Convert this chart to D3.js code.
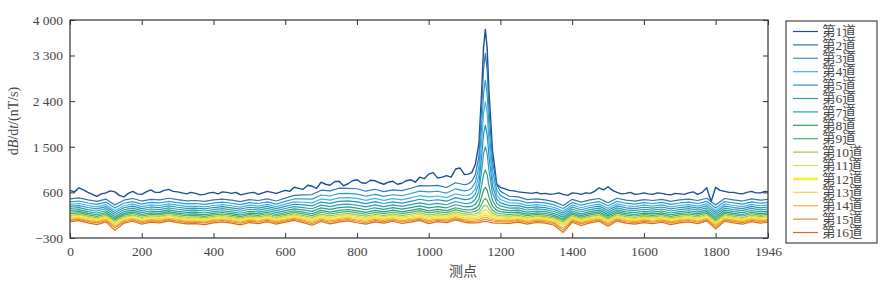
<!DOCTYPE html>
<head>
    <meta charset="utf-8">
    <title>dB/dt 多道剖面</title>
    <style>
        body { margin: 0; background: #fff; }
        text { font-family: "Liberation Serif", "Noto Sans CJK SC", serif; fill: #444; }
    </style>
</head>
<body>
<script src="https://d3js.org/d3.v7.min.js"></script>
<script>

    // measuring points (x positions of the samples)
    var points = [0,25,50,75,100,125,150,175,200,225,250,275,300,325,350,375,400,425,450,475,500,525,550,575,600,625,650,675,700,725,750,775,800,825,850,875,900,925,950,975,1000,1025,1050,1075,1100,
        1110,1120,1130,1140,1148,1153,1158,1163,1168,1178,1190,1200,
        1225,1250,1275,1300,1325,1350,1375,1400,1425,1450,1475,1500,1525,1550,1575,1600,1625,1650,1675,1700,1725,1750,1775,1800,1825,1850,1875,1900,1925,1946];

    // channel 1 is read at a finer step
    var points1 = [0,12.5,25,37.5,50,62.5,75,87.5,100,112.5,125,137.5,150,162.5,175,187.5,200,212.5,225,237.5,250,262.5,275,287.5,300,312.5,325,337.5,350,362.5,375,387.5,400,412.5,425,437.5,450,462.5,475,487.5,500,512.5,525,537.5,550,562.5,575,587.5,600,612.5,625,637.5,650,662.5,675,687.5,700,712.5,725,737.5,750,762.5,775,787.5,800,812.5,825,837.5,850,862.5,875,887.5,900,912.5,925,937.5,950,962.5,975,987.5,1000,1012.5,1025,1037.5,1050,1062.5,1075,1087.5,1100,
        1110,1120,1130,1140,1148,1153,1158,1163,1168,1178,1190,
        1200,1212.5,1225,1237.5,1250,1262.5,1275,1287.5,1300,1312.5,1325,1337.5,1350,1362.5,1375,1387.5,1400,1412.5,1425,1437.5,1450,1462.5,1475,1487.5,1500,1512.5,1525,1537.5,1550,1562.5,1575,1587.5,1600,1612.5,1625,1637.5,1650,1662.5,1675,1687.5,1700,1712.5,1725,1737.5,1750,1762.5,1775,1787.5,1800,1812.5,1825,1837.5,1850,1862.5,1875,1887.5,1900,1912.5,1925,1937.5,1946];

    var ch1 = [640,610,690,650,600,560,520,570,590,630,610,540,510,580,620,570,560,610,650,600,600,640,660,620,610,590,570,600,580,550,560,590,600,570,610,600,580,600,550,570,590,600,560,590,620,600,580,610,640,620,700,680,660,740,720,680,800,760,740,810,820,730,770,830,850,790,780,840,830,790,760,800,820,760,780,830,850,800,900,870,960,990,880,900,930,900,1060,1080,950,
        960,990,1150,1560,2640,3460,3816,3450,2600,1420,760,
        700,670,640,630,610,600,590,580,600,570,580,560,570,590,560,540,590,580,560,590,580,620,690,650,710,640,600,570,580,600,560,570,590,570,560,590,580,560,550,580,570,560,590,610,560,600,690,420,700,640,620,600,600,580,570,600,620,590,590,620,610];
    var ch2 = [473,490,451,423,468,352,446,479,429,462,451,484,457,434,440,423,451,468,446,418,457,440,473,429,487,540,551,557,643,629,682,679,671,623,662,615,648,634,682,734,729,737,696,790,751,
        766,818,948,1312,2301,3030,3342,3017,2254,1209,746,622,
        524,511,457,471,453,412,341,462,407,451,479,396,484,446,429,457,440,462,423,451,468,440,484,352,479,451,429,473,446,462];
    var ch3 = [413,430,391,363,408,292,386,419,369,402,391,424,397,374,380,363,391,408,386,358,397,380,413,369,422,470,471,467,548,529,577,579,566,523,562,520,553,534,577,624,609,622,586,670,631,
        642,686,796,1103,1938,2552,2816,2544,1904,1028,639,535,
        452,444,393,409,392,352,281,402,347,391,419,336,424,386,369,397,380,402,363,391,408,380,424,292,419,391,369,413,386,402];
    var ch4 = [363,380,341,313,358,242,336,369,319,352,341,374,347,324,330,313,341,358,336,308,347,330,363,319,368,412,405,393,470,447,491,497,480,441,480,442,475,452,491,534,511,528,496,572,533,
        541,578,671,933,1642,2164,2388,2158,1617,876,547,459,
        390,387,339,357,341,302,231,352,297,341,369,286,374,336,319,347,330,352,313,341,358,330,374,242,369,341,319,363,336,352];
    var ch5 = [323,340,301,273,318,202,296,329,279,312,301,334,307,284,290,273,301,318,296,268,307,290,323,279,325,366,353,335,409,383,424,433,413,377,416,381,414,388,424,464,435,455,426,496,457,
        461,490,565,772,1335,1750,1928,1745,1314,725,463,393,
        338,340,295,315,300,262,191,312,257,301,329,246,334,296,279,307,290,312,273,301,318,290,334,202,329,301,279,323,296,312];
    var ch6 = [283,300,261,233,278,162,256,289,239,272,261,294,267,244,250,233,261,278,256,228,267,250,283,239,282,320,301,277,348,319,357,369,346,313,352,320,353,324,357,394,359,382,356,420,381,
        381,404,460,619,1048,1364,1500,1361,1034,586,386,333,
        289,295,252,274,259,222,151,272,217,261,289,206,294,256,239,267,250,272,233,261,278,250,294,162,289,261,239,283,256,272];
    var ch7 = [243,260,221,193,238,122,216,249,199,232,221,254,227,204,210,193,221,238,216,188,227,210,243,199,240,276,253,225,294,263,299,313,288,257,296,266,299,268,299,334,295,320,296,356,317,
        313,328,365,468,747,953,1041,950,735,440,307,271,
        240,250,209,232,219,182,111,232,177,221,249,166,254,216,199,227,210,232,193,221,238,210,254,122,249,221,199,243,216,232];
    var ch8 = [208,225,186,158,203,87,181,214,164,197,186,219,192,169,175,158,186,203,181,153,192,175,208,164,203,237,210,178,245,212,246,262,235,206,245,217,250,217,246,279,236,263,241,297,258,
        252,261,283,347,519,646,700,644,511,328,244,221,
        199,211,172,196,183,147,76,197,142,186,214,131,219,181,164,192,175,197,158,186,203,175,219,87,214,186,164,208,181,197];
    var ch9 = [178,195,156,128,173,57,151,184,134,167,156,189,162,139,145,128,156,173,151,123,162,145,178,134,172,205,176,142,208,174,207,224,196,168,207,180,213,179,207,239,194,222,201,255,216,
        208,213,227,266,370,447,480,445,362,247,193,178,
        163,178,140,165,153,117,46,167,112,156,184,101,189,151,134,162,145,167,128,156,173,145,189,57,184,156,134,178,151,167];
    var ch10 = [148,165,126,98,143,27,121,154,104,137,126,159,132,109,115,98,126,143,121,93,132,115,148,104,141,173,142,106,171,136,168,186,157,130,169,143,176,141,168,199,152,181,161,213,174,
        165,169,178,204,275,328,350,326,269,190,153,142,
        130,146,109,135,122,87,16,137,82,126,154,71,159,121,104,132,115,137,98,126,143,115,159,27,154,126,104,148,121,137];
    var ch11 = [128,145,106,78,123,7,101,134,84,117,106,139,112,89,95,78,106,123,101,73,112,95,128,84,120,151,118,80,144,108,139,158,128,102,141,116,149,113,139,169,120,150,131,181,142,
        132,135,141,159,208,245,260,244,204,150,124,116,
        107,124,88,114,102,67,-4,117,62,106,134,51,139,101,84,112,95,117,78,106,123,95,139,7,134,106,84,128,101,117];
    var ch12 = [108,125,86,58,103,-13,81,114,64,97,86,119,92,69,75,58,86,103,81,53,92,75,108,64,100,130,96,57,121,84,115,134,104,78,117,93,126,89,115,144,94,125,106,155,116,
        106,108,113,126,162,189,200,188,158,117,97,91,
        84,102,67,94,82,47,-24,97,42,86,114,31,119,81,64,92,75,97,58,86,103,75,119,-13,114,86,64,108,81,97];
    var ch13 = [88,105,66,38,83,-33,61,94,44,77,66,99,72,49,55,38,66,83,61,33,72,55,88,44,79,109,74,34,97,60,90,110,79,54,93,69,102,65,90,119,68,99,81,129,90,
        80,81,85,95,122,141,150,141,118,87,72,68,
        62,81,46,73,62,27,-44,77,22,66,94,11,99,61,44,72,55,77,38,66,83,55,99,-33,94,66,44,88,61,77];
    var ch14 = [68,85,46,18,63,-70,41,74,24,57,46,79,52,29,35,18,46,63,41,13,52,35,68,24,59,88,52,11,74,36,66,86,55,30,69,46,79,41,66,94,42,74,56,103,64,
        54,55,58,66,87,103,110,103,85,61,49,45,
        41,61,26,53,42,7,-100,57,2,46,74,-9,79,41,24,52,35,57,18,46,63,35,79,-53,74,46,24,68,41,57];
    var ch15 = [51,69,27,-3,45,-100,21,57,3,39,27,63,33,9,15,-3,27,45,21,-9,33,15,51,3,40,71,31,-15,52,11,42,65,30,5,47,22,58,17,42,73,15,50,31,81,39,
        27,28,30,36,53,65,70,65,52,35,26,23,
        20,42,5,34,21,-15,-140,39,-21,27,57,-33,63,21,3,33,15,39,-3,27,45,15,63,-81,57,27,3,51,21,39];
    var ch16 = [24,44,-2,-35,18,-150,-8,31,-28,11,-2,37,5,-22,-15,-35,-2,18,-8,-41,5,-15,24,-28,12,46,2,-48,25,-20,14,39,1,-27,19,-8,31,-14,14,47,-16,22,2,56,10,
        -3,-2,0,4,17,26,30,25,15,0,-8,-9,
        -12,13,-27,6,-8,-48,-190,11,-54,-2,31,-67,37,-8,-28,5,-15,11,-35,-2,18,-15,37,-119,31,-2,-28,24,-8,11];

    var names = ['第1道','第2道','第3道','第4道','第5道','第6道','第7道','第8道',
        '第9道','第10道','第11道','第12道','第13道','第14道','第15道','第16道'];
    var colors = ['#1b4f93','#2e78b4','#2f9ad2','#45b3e2','#2196c6','#2a9fb2','#27a08f','#2f9f6c',
        '#46ad6f','#9cc25a','#d9df4a','#f6ee2a','#f6d24a','#eeb43a','#e2902c','#e0691f'];
    var yTicks = [-300, 600, 1500, 2400, 3300, 4000];
    var xTicks = [0, 200, 400, 600, 800, 1000, 1200, 1400, 1600, 1800, 1946];

    var series = [ch1, ch2, ch3, ch4, ch5, ch6, ch7, ch8, ch9, ch10, ch11, ch12, ch13, ch14, ch15, ch16]
        .map(function (vals, i) {
            var xs = i === 0 ? points1 : points;
            return { name: names[i], color: colors[i], values: vals.map(function (v, j) { return [xs[j], v]; }) };
        });

    var margin = { top: 20, right: 124, bottom: 51, left: 70 },
        width = 892 - margin.left - margin.right,
        height = 289 - margin.top - margin.bottom;

    var x = d3.scaleLinear().domain([0, 1946]).range([0, width]);
    var y = d3.scaleLinear().domain([-300, 4000]).range([height, 0]);

    var fmt = function (v) { return d3.format(',')(v).replace(/,/g, ' '); };

    var svg = d3.select('body').append('svg')
        .attr('width', 892)
        .attr('height', 289)
        .append('g')
        .attr('transform', 'translate(' + margin.left + ',' + margin.top + ')');

    var line = d3.line()
        .x(function (d) { return x(d[0]); })
        .y(function (d) { return y(d[1]); });

    svg.selectAll('.ch')
        .data(series)
        .enter().append('path')
        .attr('class', 'ch')
        .attr('d', function (d) { return line(d.values); })
        .attr('fill', 'none')
        .attr('stroke', function (d) { return d.color; })
        .attr('stroke-width', function (d, i) { return i === 0 ? 1.4 : 1.2; })
        .attr('stroke-linejoin', 'round');

    // axes, ticks pointing inwards (all four sides)
    svg.append('g')
        .attr('transform', 'translate(0,' + height + ')')
        .call(d3.axisBottom(x).tickValues(xTicks).tickSizeInner(-5).tickSizeOuter(0).tickPadding(8).tickFormat(d3.format('d')));
    svg.append('g')
        .call(d3.axisLeft(y).tickValues(yTicks).tickSizeInner(-5).tickSizeOuter(0).tickPadding(7).tickFormat(fmt));
    svg.append('g')
        .call(d3.axisTop(x).tickValues(xTicks).tickSizeInner(-5).tickSizeOuter(0).tickFormat(''));
    svg.append('g')
        .attr('transform', 'translate(' + width + ',0)')
        .call(d3.axisRight(y).tickValues(yTicks).tickSizeInner(-5).tickSizeOuter(0).tickFormat(''));

    svg.selectAll('.domain').remove();
    svg.selectAll('.tick line').attr('stroke', '#333');
    svg.selectAll('.tick text').style('font-size', '13.5px').attr('fill', '#444');

    svg.append('rect')
        .attr('width', width)
        .attr('height', height)
        .attr('fill', 'none')
        .attr('stroke', '#333')
        .attr('stroke-width', 1.2);

    // axis titles
    var yt = svg.append('text')
        .attr('transform', 'translate(' + (-52) + ',' + (height / 2 - 8) + ') rotate(-90)')
        .attr('text-anchor', 'middle')
        .style('font-size', '14px');
    yt.append('tspan').text('d');
    yt.append('tspan').style('font-style', 'italic').text('B');
    yt.append('tspan').text('/d');
    yt.append('tspan').style('font-style', 'italic').text('t');
    yt.append('tspan').text('/(nT/s)');

    svg.append('text')
        .attr('x', 393)
        .attr('y', height + 38)
        .attr('text-anchor', 'middle')
        .style('font-size', '14px')
        .text('测点');

    // legend
    var lg = svg.append('g').attr('transform', 'translate(' + (width + 18) + ',1)');
    lg.append('rect')
        .attr('width', 91)
        .attr('height', 222)
        .attr('fill', '#fff')
        .attr('stroke', '#444')
        .attr('stroke-width', 1.2);

    var item = lg.selectAll('.item')
        .data(series)
        .enter().append('g')
        .attr('class', 'item')
        .attr('transform', function (d, i) { return 'translate(0,' + (10.5 + i * 13.4) + ')'; });

    item.append('line')
        .attr('x1', 7).attr('x2', 32)
        .attr('stroke', function (d) { return d.color; })
        .attr('stroke-width', function (d, i) { return i === 11 ? 2.5 : 1.2; });

    item.append('text')
        .attr('x', 36)
        .attr('dy', '0.35em')
        .style('font-size', '13.5px')
        .text(function (d) { return d.name; });

</script>
</body>
